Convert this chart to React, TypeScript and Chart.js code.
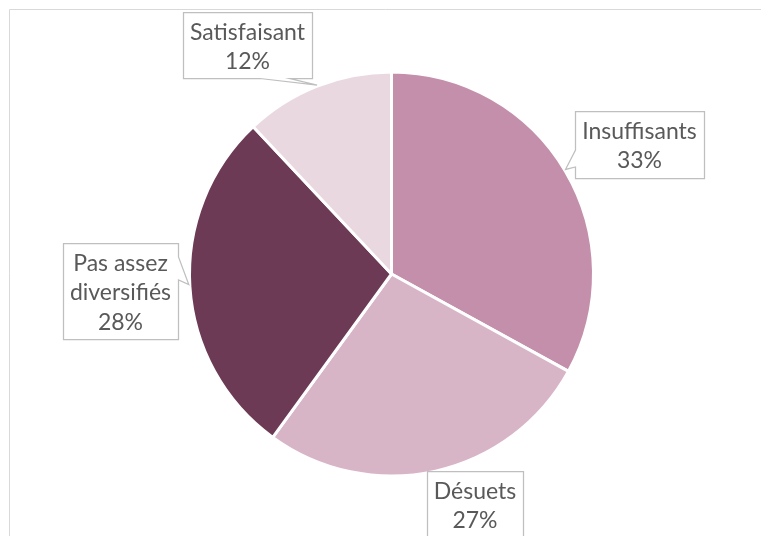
import React, { useEffect, useRef } from "react";
import { Chart, registerables } from "chart.js";

Chart.register(...registerables);

const categories = ["Insuffisants", "Désuets", "Pas assez diversifiés", "Satisfaisant"];
const values = [33, 27, 28, 12];
const labelLines = [["Insuffisants"], ["Désuets"], ["Pas assez", "diversifiés"], ["Satisfaisant"]];
const sliceColors = ["#C48FAA", "#D8B4C7", "#6D3A55", "#EAD8E1"];

type Callout = {
  x: number; y: number; w: number; h: number;
  side: "left" | "right" | "bottom" | "none";
  a: number; b: number; // pointer base along edge
  tipDeg: number;
};

const callouts: Callout[] = [
  { x: 575, y: 111, w: 129, h: 67, side: "left", a: 150, b: 167, tipDeg: -31 },
  { x: 427, y: 471, w: 96, h: 80, side: "none", a: 0, b: 0, tipDeg: 76 },
  { x: 63, y: 243, w: 115, h: 96, side: "right", a: 257, b: 280, tipDeg: 177 },
  { x: 183, y: 12, w: 129, h: 66, side: "bottom", a: 290, b: 260, tipDeg: -111.5 },
];

const FONT = "23px Lato";
const LINE_H = 29.5;

const calloutPlugin = {
  id: "callouts",
  afterDraw(chart: any) {
    const ctx = chart.ctx as CanvasRenderingContext2D;
    const meta = chart.getDatasetMeta(0);
    const arc0 = meta.data[0];
    if (!arc0) return;
    const cx = arc0.x, cy = arc0.y, r = arc0.outerRadius;
    ctx.save();
    // outer frame
    ctx.strokeStyle = "#D9D9D9";
    ctx.lineWidth = 1;
    ctx.beginPath();
    ctx.moveTo(9.5, 540);
    ctx.lineTo(9.5, 9.5);
    ctx.lineTo(770, 9.5);
    ctx.stroke();

    callouts.forEach((c, i) => {
      const t = (c.tipDeg * Math.PI) / 180;
      const tx = cx + (r + 1) * Math.cos(t);
      const ty = cy + (r + 1) * Math.sin(t);
      const L = c.x + 0.5, T = c.y + 0.5, R = c.x + c.w + 0.5, B = c.y + c.h + 0.5;
      ctx.beginPath();
      ctx.moveTo(L, T);
      ctx.lineTo(R, T);
      if (c.side === "right") {
        ctx.lineTo(R, c.a);
        ctx.lineTo(tx, ty);
        ctx.lineTo(R, c.b);
      }
      ctx.lineTo(R, B);
      if (c.side === "bottom") {
        ctx.lineTo(c.a, B);
        ctx.lineTo(tx, ty);
        ctx.lineTo(c.b, B);
      }
      ctx.lineTo(L, B);
      if (c.side === "left") {
        ctx.lineTo(L, c.b);
        ctx.lineTo(tx, ty);
        ctx.lineTo(L, c.a);
      }
      ctx.closePath();
      ctx.fillStyle = "#FFFFFF";
      ctx.fill();
      ctx.strokeStyle = "#BFBFBF";
      ctx.lineWidth = 1.25;
      ctx.lineJoin = "miter";
      ctx.stroke();

      const lines = [...labelLines[i], `${values[i]}%`];
      ctx.fillStyle = "#595959";
      ctx.font = FONT;
      ctx.textAlign = "center";
      ctx.textBaseline = "alphabetic";
      const mid = c.x + c.w / 2;
      lines.forEach((ln, k) => {
        ctx.fillText(ln, mid, c.y + 27.5 + k * LINE_H);
      });
    });
    ctx.restore();
  },
};

export default function App() {
  const ref = useRef<HTMLCanvasElement | null>(null);
  useEffect(() => {
    if (!ref.current) return;
    const chart = new Chart(ref.current, {
      type: "pie",
      data: {
        labels: categories,
        datasets: [
          {
            data: values,
            backgroundColor: sliceColors,
            borderColor: "#FFFFFF",
            borderWidth: 3,
          },
        ],
      },
      options: {
        responsive: false,
        maintainAspectRatio: false,
        animation: false,
        radius: 202,
        layout: { padding: { left: 181, right: 159, top: 64, bottom: 52 } },
        plugins: {
          legend: { display: false },
          tooltip: { enabled: false },
        },
      } as any,
      plugins: [calloutPlugin],
    });
    return () => chart.destroy();
  }, []);
  return (
    <div style={{ position: "fixed", left: 0, top: 0, width: 761, height: 536, background: "#FFFFFF" }}>
      <canvas ref={ref} width={761} height={536} style={{ display: "block" }} />
    </div>
  );
}
